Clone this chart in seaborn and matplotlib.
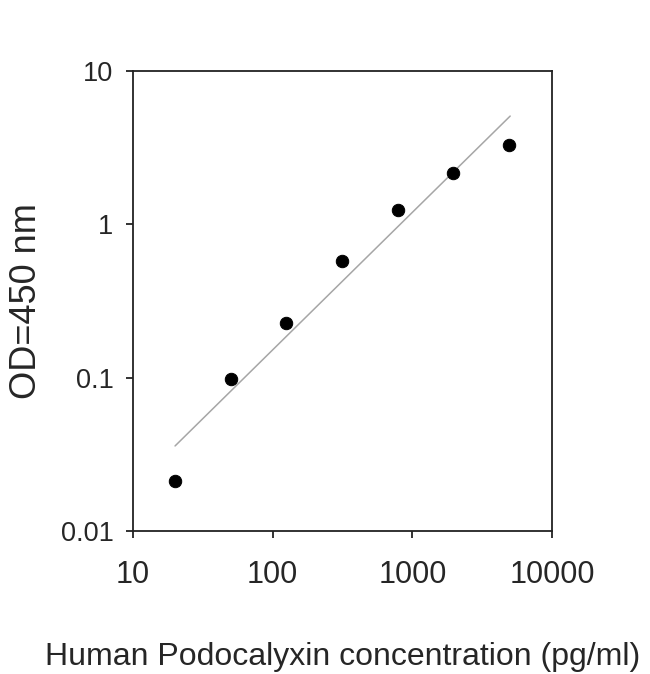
import numpy as np
import pandas as pd
import matplotlib
matplotlib.use("Agg")
import matplotlib.pyplot as plt
import seaborn as sns
from matplotlib.ticker import FixedLocator, FixedFormatter, NullLocator

# standard curve readings
conc = [20, 50, 125, 312.5, 781.25, 1953, 4883]
od = [0.0212, 0.098, 0.227, 0.576, 1.24, 2.16, 3.29]

x_ticks = [10, 100, 1000, 10000]
x_labels = ["10", "100", "1000", "10000"]
y_ticks = [0.01, 0.1, 1, 10]
y_labels = ["0.01", "0.1", "1", "10"]

df = pd.DataFrame({"conc": conc, "od": od})

# power fit (straight line on log-log)
slope, icpt = np.polyfit(np.log10(df["conc"]), np.log10(df["od"]), 1)
fit_x = np.array([df["conc"].min(), 5000])
fit = pd.DataFrame({"conc": fit_x, "od": 10 ** (icpt + slope * np.log10(fit_x))})

sns.set_style("white")
plt.rcParams["font.family"] = ["Liberation Sans", "DejaVu Sans"]

fig = plt.figure(figsize=(6.5, 6.74), dpi=100)
ax = fig.add_axes([0.2046, 0.2122, 0.645, 0.6825])

sns.lineplot(data=fit, x="conc", y="od", color="#a6a6a6", linewidth=1.1, ax=ax)
sns.scatterplot(data=df, x="conc", y="od", color="black", s=80, edgecolor="black", ax=ax, zorder=3)

ax.set_xscale("log")
ax.set_yscale("log")
ax.set_xlim(10, 10000)
ax.set_ylim(0.01, 10)
ax.xaxis.set_major_locator(FixedLocator(x_ticks))
ax.xaxis.set_major_formatter(FixedFormatter(x_labels))
ax.yaxis.set_major_locator(FixedLocator(y_ticks))
ax.yaxis.set_major_formatter(FixedFormatter(y_labels))
ax.xaxis.set_minor_locator(NullLocator())
ax.yaxis.set_minor_locator(NullLocator())

for s in ax.spines.values():
    s.set_color("#222222")
    s.set_linewidth(1.3)
ax.tick_params(axis="both", which="major", direction="out", length=5, width=1.3,
               color="#222222", left=True, bottom=True)
ax.tick_params(axis="x", labelsize=22, pad=16)
ax.tick_params(axis="y", labelsize=19.5, pad=9)

ax.set_xlabel("Human Podocalyxin concentration (pg/ml)", fontsize=23, va="center")
ax.set_ylabel("OD=450 nm", fontsize=26, va="center")
ax.xaxis.set_label_coords(0.5, -0.275)
ax.yaxis.set_label_coords(-0.255, 0.5)

fig.savefig("out.png", dpi=100)
